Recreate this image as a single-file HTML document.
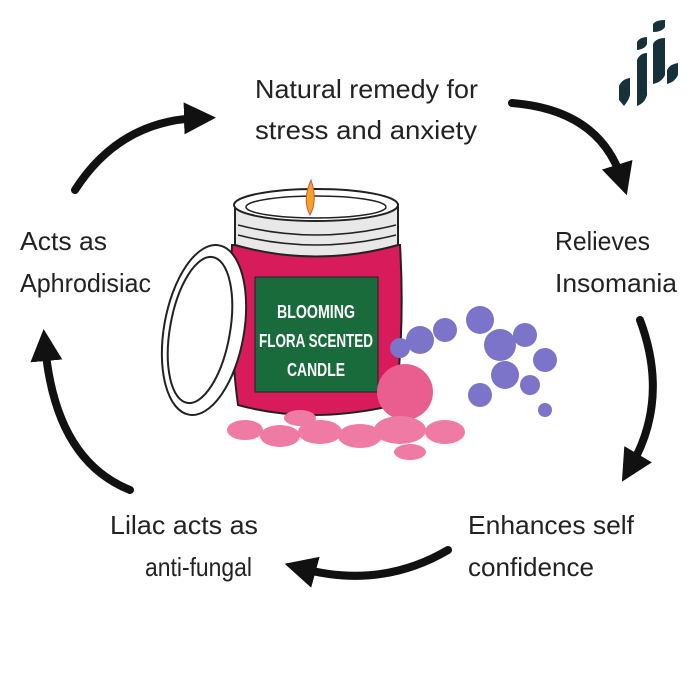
<!DOCTYPE html>
<html><head><style>
body{margin:0;background:#fff}
svg{display:block}
text{font-family:"Liberation Sans",sans-serif;fill:#222}
.l{font-size:26px}
.c{font-family:"Liberation Sans",sans-serif;font-weight:bold;fill:#fff;font-size:18px}
</style></head><body>
<svg width="700" height="700" viewBox="0 0 700 700">
<defs>
<marker id="ah" markerWidth="4" markerHeight="4" refX="2" refY="2" orient="auto" markerUnits="strokeWidth">
<path d="M0,0 L4,2 L0,4 Z" fill="#111"/></marker>
</defs>
<g fill="none" stroke="#111" stroke-width="8" stroke-linecap="round">
<path d="M75,190 Q120,120 200,118" marker-end="url(#ah)"/>
<path d="M512,103 Q600,110 622,180" marker-end="url(#ah)"/>
<path d="M640,320 Q670,400 630,468" marker-end="url(#ah)"/>
<path d="M448,550 Q380,590 300,568" marker-end="url(#ah)"/>
<path d="M130,490 Q55,460 45,345" marker-end="url(#ah)"/>
</g>
<text class="l" x="255" y="98" textLength="223" lengthAdjust="spacingAndGlyphs">Natural remedy for</text>
<text class="l" x="255" y="139" textLength="222" lengthAdjust="spacingAndGlyphs">stress and anxiety</text>
<text class="l" x="555" y="250" textLength="95" lengthAdjust="spacingAndGlyphs">Relieves</text>
<text class="l" x="555" y="292" textLength="122" lengthAdjust="spacingAndGlyphs">Insomania</text>
<text class="l" x="20" y="250" textLength="87" lengthAdjust="spacingAndGlyphs">Acts as</text>
<text class="l" x="20" y="292" textLength="131" lengthAdjust="spacingAndGlyphs">Aphrodisiac</text>
<text class="l" x="110" y="534" textLength="148" lengthAdjust="spacingAndGlyphs">Lilac acts as</text>
<text class="l" x="145" y="576" textLength="107" lengthAdjust="spacingAndGlyphs">anti-fungal</text>
<text class="l" x="468" y="534" textLength="166" lengthAdjust="spacingAndGlyphs">Enhances self</text>
<text class="l" x="468" y="576" textLength="126" lengthAdjust="spacingAndGlyphs">confidence</text>
<!-- candle jar -->
<path d="M232,245 Q228,330 238,405 Q310,425 395,405 Q405,330 400,245 Z" fill="#d81b5a" stroke="#222" stroke-width="2"/>
<path d="M235,205 L235,245 Q316,268 398,245 L398,205 Z" fill="#e8e8e8" stroke="#222" stroke-width="2"/>
<ellipse cx="316" cy="205" rx="82" ry="16" fill="#fff" stroke="#222" stroke-width="2"/>
<ellipse cx="316" cy="207" rx="70" ry="11" fill="none" stroke="#222" stroke-width="1.5"/>
<path d="M238,225 Q316,245 396,225 M238,235 Q316,255 396,235" fill="none" stroke="#222" stroke-width="1.5"/>
<path d="M311,180 Q302,200 310,215 Q318,200 311,180 Z" fill="#f3a51d" stroke="#c55" stroke-width="1"/>
<rect x="255" y="277" width="123" height="115" fill="#1a6b3c" stroke="#222"/>
<text class="c" x="316" y="318" text-anchor="middle" textLength="78" lengthAdjust="spacingAndGlyphs">BLOOMING</text>
<text class="c" x="316" y="347" text-anchor="middle" textLength="114" lengthAdjust="spacingAndGlyphs">FLORA SCENTED</text>
<text class="c" x="316" y="376" text-anchor="middle" textLength="58" lengthAdjust="spacingAndGlyphs">CANDLE</text>
<!-- lid -->
<ellipse cx="204" cy="330" rx="40" ry="86" transform="rotate(10 204 330)" fill="#fff" stroke="#222" stroke-width="2"/>
<ellipse cx="200" cy="330" rx="30" ry="74" transform="rotate(10 200 330)" fill="#fff" stroke="#222" stroke-width="2"/>
<!-- lilac -->
<g fill="#7b74c9">
<circle cx="420" cy="340" r="14"/><circle cx="445" cy="330" r="12"/><circle cx="480" cy="320" r="14"/>
<circle cx="500" cy="345" r="16"/><circle cx="525" cy="335" r="12"/><circle cx="545" cy="360" r="12"/>
<circle cx="505" cy="375" r="14"/><circle cx="480" cy="395" r="12"/><circle cx="530" cy="385" r="10"/>
<circle cx="545" cy="410" r="7"/><circle cx="400" cy="348" r="10"/>
</g>
<!-- rose and petals -->
<g fill="#ef7aa3">
<circle cx="405" cy="392" r="28" fill="#e95e8f"/>
<ellipse cx="245" cy="430" rx="18" ry="10"/><ellipse cx="280" cy="436" rx="20" ry="11"/>
<ellipse cx="320" cy="432" rx="22" ry="12"/><ellipse cx="360" cy="436" rx="22" ry="12"/>
<ellipse cx="400" cy="430" rx="26" ry="14"/><ellipse cx="445" cy="432" rx="20" ry="12"/>
<ellipse cx="410" cy="452" rx="16" ry="8"/><ellipse cx="300" cy="418" rx="16" ry="8"/>
</g>
<!-- logo -->
<g fill="#16313a">
<path d="M619,100 L619,86 Q622,79 630,78 L630,95 Q629,100 624,106 Z"/>
<path d="M637,104 L637,60 Q640,53 647,53 L647,95 Q645,103 637,106 Z"/>
<path d="M637,50 L637,42 Q640,37 647,37 L647,44 Q645,49 637,50 Z"/>
<path d="M653,82 L653,44 Q656,38 665,38 L665,75 Q662,82 653,84 Z"/>
<path d="M653,32 L653,24 Q656,20 665,20 L665,27 Q662,32 653,32 Z"/>
<path d="M667,83 L667,70 Q670,64 678,63 L678,75 Q675,82 667,84 Z"/>
</g>
</svg>
</body></html>
